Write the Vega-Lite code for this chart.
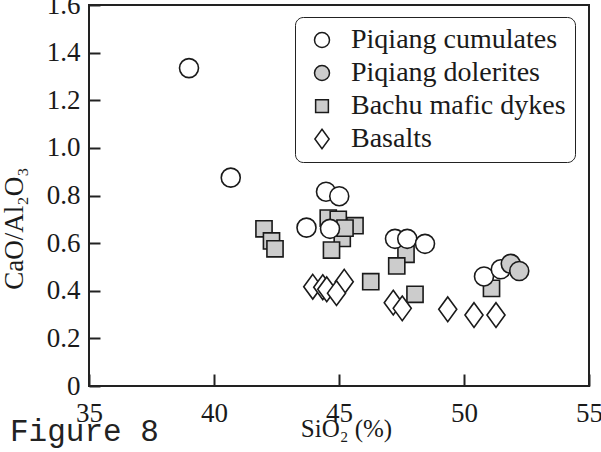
{
  "$schema": "https://vega.github.io/schema/vega-lite/v6.json",
  "width": 500,
  "height": 381,
  "autosize": "none",
  "padding": {"left": 89, "top": 5, "right": 12, "bottom": 66},
  "background": "white",
  "title": {
    "text": "Figure 8",
    "orient": "bottom",
    "anchor": "start",
    "frame": "group",
    "font": "Liberation Mono",
    "fontSize": 31,
    "fontWeight": "normal",
    "color": "#222222",
    "dx": -79,
    "dy": -24,
    "offset": 0
  },
  "config": {
    "view": {"stroke": "#222222", "strokeWidth": 2},
    "font": "Liberation Serif",
    "axis": {"labelFont": "Liberation Serif", "titleFont": "Liberation Serif", "ticks": true},
    "legend": {"labelFont": "Liberation Serif"}
  },
  "data": {
    "values": [
      {"SiO2": 42.0, "ratio": 0.66, "group": "Bachu mafic dykes"},
      {"SiO2": 42.3, "ratio": 0.609, "group": "Bachu mafic dykes"},
      {"SiO2": 42.44, "ratio": 0.576, "group": "Bachu mafic dykes"},
      {"SiO2": 45.13, "ratio": 0.62, "group": "Bachu mafic dykes"},
      {"SiO2": 44.57, "ratio": 0.705, "group": "Bachu mafic dykes"},
      {"SiO2": 44.97, "ratio": 0.70, "group": "Bachu mafic dykes"},
      {"SiO2": 45.64, "ratio": 0.673, "group": "Bachu mafic dykes"},
      {"SiO2": 45.24, "ratio": 0.663, "group": "Bachu mafic dykes"},
      {"SiO2": 44.7, "ratio": 0.571, "group": "Bachu mafic dykes"},
      {"SiO2": 47.68, "ratio": 0.553, "group": "Bachu mafic dykes"},
      {"SiO2": 47.31, "ratio": 0.504, "group": "Bachu mafic dykes"},
      {"SiO2": 46.27, "ratio": 0.438, "group": "Bachu mafic dykes"},
      {"SiO2": 48.04, "ratio": 0.385, "group": "Bachu mafic dykes"},
      {"SiO2": 51.1, "ratio": 0.41, "group": "Bachu mafic dykes"},
      {"SiO2": 43.95, "ratio": 0.417, "group": "Basalts"},
      {"SiO2": 44.35, "ratio": 0.415, "group": "Basalts"},
      {"SiO2": 44.51, "ratio": 0.406, "group": "Basalts"},
      {"SiO2": 45.21, "ratio": 0.438, "group": "Basalts"},
      {"SiO2": 44.9, "ratio": 0.39, "group": "Basalts"},
      {"SiO2": 47.17, "ratio": 0.35, "group": "Basalts"},
      {"SiO2": 47.53, "ratio": 0.326, "group": "Basalts"},
      {"SiO2": 49.35, "ratio": 0.322, "group": "Basalts"},
      {"SiO2": 50.4, "ratio": 0.298, "group": "Basalts"},
      {"SiO2": 51.28, "ratio": 0.298, "group": "Basalts"},
      {"SiO2": 39.0, "ratio": 1.335, "group": "Piqiang cumulates"},
      {"SiO2": 40.67, "ratio": 0.875, "group": "Piqiang cumulates"},
      {"SiO2": 44.48, "ratio": 0.816, "group": "Piqiang cumulates"},
      {"SiO2": 45.01, "ratio": 0.797, "group": "Piqiang cumulates"},
      {"SiO2": 43.7, "ratio": 0.665, "group": "Piqiang cumulates"},
      {"SiO2": 44.64, "ratio": 0.66, "group": "Piqiang cumulates"},
      {"SiO2": 47.24, "ratio": 0.618, "group": "Piqiang cumulates"},
      {"SiO2": 47.73, "ratio": 0.618, "group": "Piqiang cumulates"},
      {"SiO2": 48.44, "ratio": 0.597, "group": "Piqiang cumulates"},
      {"SiO2": 50.8, "ratio": 0.46, "group": "Piqiang cumulates"},
      {"SiO2": 51.47, "ratio": 0.49, "group": "Piqiang cumulates"},
      {"SiO2": 51.87, "ratio": 0.513, "group": "Piqiang dolerites"},
      {"SiO2": 52.21, "ratio": 0.483, "group": "Piqiang dolerites"}
    ]
  },
  "mark": {"type": "point", "filled": true, "stroke": "#1a1a1a", "strokeWidth": 1.6, "opacity": 1, "size": 361},
  "encoding": {
    "x": {
      "field": "SiO2",
      "type": "quantitative",
      "scale": {"domain": [35, 55], "nice": false, "zero": false},
      "axis": {
        "values": [35, 40, 45, 50, 55],
        "title": "SiO₂ (%)",
        "titleFont": "Liberation Serif",
        "titleFontSize": 25,
        "titleFontWeight": "normal",
        "titleColor": "#1a1a1a",
        "titleBaseline": "alphabetic",
        "titleY": 50,
        "titleX": 257,
        "domain": false,
        "ticks": true,
        "zindex": 1,
        "tickColor": "#222222",
        "tickWidth": 2,
        "tickSize": -12,
        "tickOpacity": 1,
        "labelPadding": 26,
        "labelFont": "Liberation Serif",
        "labelFontSize": 27,
        "labelColor": "#1a1a1a",
        "labelFlush": false,
        "labelOverlap": false,
        "labelBound": false,
        "grid": false
      }
    },
    "y": {
      "field": "ratio",
      "type": "quantitative",
      "scale": {"domain": [0, 1.6], "nice": false},
      "axis": {
        "values": [0, 0.2, 0.4, 0.6, 0.8, 1.0, 1.2, 1.4, 1.6],
        "labelExpr": "datum.value == 0 ? '0' : format(datum.value, '.1f')",
        "title": "CaO/Al₂O₃",
        "titleFont": "Liberation Serif",
        "titleFontSize": 27,
        "titleFontWeight": "normal",
        "titleColor": "#1a1a1a",
        "titleAngle": -90,
        "titleAlign": "center",
        "titleBaseline": "alphabetic",
        "titleX": -67,
        "titleY": 223,
        "domain": false,
        "ticks": true,
        "zindex": 1,
        "tickColor": "#222222",
        "tickWidth": 2,
        "tickSize": -11,
        "tickOpacity": 1,
        "labelPadding": 20,
        "labelFont": "Liberation Serif",
        "labelFontSize": 27,
        "labelColor": "#1a1a1a",
        "labelFlush": false,
        "labelOverlap": false,
        "labelBound": false,
        "grid": false
      }
    },
    "shape": {
      "field": "group",
      "type": "nominal",
      "scale": {
        "domain": ["Piqiang cumulates", "Piqiang dolerites", "Bachu mafic dykes", "Basalts"],
        "range": ["circle", "circle", "M-0.85,-0.85H0.85V0.85H-0.85Z", "M0,-1.3L0.95,0L0,1.3L-0.95,0Z"]
      },
      "legend": {
        "title": null,
        "orient": "none",
        "legendX": 206,
        "legendY": 12,
        "direction": "vertical",
        "strokeColor": "#222222",
        "cornerRadius": 8,
        "fillColor": "white",
        "padding": 9,
        "symbolOffset": 4,
        "symbolSize": 225,
        "labelFont": "Liberation Serif",
        "labelFontSize": 28,
        "labelColor": "#1a1a1a",
        "labelOffset": 15,
        "labelLimit": 400,
        "rowPadding": 5,
        "encoding": {
          "symbols": {"update": {"stroke": {"value": "#1a1a1a"}, "strokeWidth": {"value": 1.5}}},
          "legend": {"update": {"strokeWidth": {"value": 2}}}
        }
      }
    },
    "fill": {
      "field": "group",
      "type": "nominal",
      "scale": {
        "domain": ["Piqiang cumulates", "Piqiang dolerites", "Bachu mafic dykes", "Basalts"],
        "range": ["#ffffff", "#cccccc", "#cccccc", "#ffffff"]
      },
      "legend": {
        "title": null,
        "orient": "none",
        "legendX": 206,
        "legendY": 12,
        "direction": "vertical",
        "strokeColor": "#222222",
        "cornerRadius": 8,
        "fillColor": "white",
        "padding": 9,
        "symbolOffset": 4,
        "symbolSize": 225,
        "labelFont": "Liberation Serif",
        "labelFontSize": 28,
        "labelColor": "#1a1a1a",
        "labelOffset": 15,
        "labelLimit": 400,
        "rowPadding": 5,
        "encoding": {
          "symbols": {"update": {"stroke": {"value": "#1a1a1a"}, "strokeWidth": {"value": 1.5}}},
          "legend": {"update": {"strokeWidth": {"value": 2}}}
        }
      }
    }
  }
}
